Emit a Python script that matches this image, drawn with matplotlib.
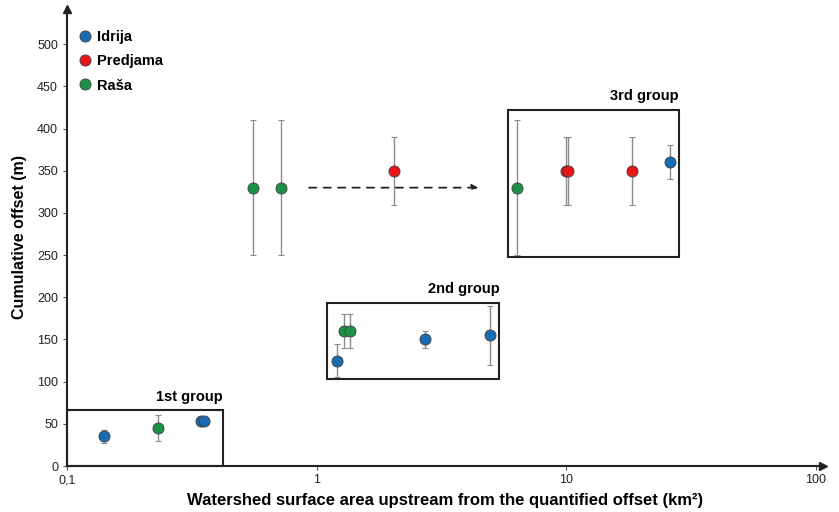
import matplotlib
matplotlib.use('Agg')
import matplotlib.pyplot as plt
from matplotlib.patches import Rectangle
from matplotlib.ticker import FixedLocator, FixedFormatter, NullLocator

plt.rcParams['font.family'] = ['Liberation Sans', 'DejaVu Sans']

# Watershed area (km2), cumulative offset (m) and error (m) per region
idrija_area = [0.141, 0.344, 0.353, 1.21, 2.73, 4.97, 26.1]
idrija_offset = [35, 53, 53, 125, 150, 155, 360]
idrija_err = [8, 0, 0, 20, 10, 35, 20]

predjama_area = [2.05, 9.95, 10.2, 18.4]
predjama_offset = [350, 350, 350, 350]
predjama_err = [40, 40, 40, 40]

rasa_area = [0.231, 0.555, 0.718, 1.29, 1.36, 6.37]
rasa_offset = [45, 330, 330, 160, 160, 330]
rasa_err = [15, 80, 80, 20, 20, 80]

# group boxes: (x0, x1, y0, y1, label)
groups = [
    (0.1, 0.42, 0, 66, '1st group'),
    (1.10, 5.4, 103, 193, '2nd group'),
    (5.86, 28.3, 248, 422, '3rd group'),
]

# dashed arrow between the groups
arrow_start = (0.91, 330)
arrow_end = (4.57, 330)

fig = plt.figure(figsize=(8.39, 5.12), dpi=100)
ax = fig.add_axes([0.0799, 0.0898, 0.901, 0.893])

series = [
    ('Idrija', idrija_area, idrija_offset, idrija_err, '#1a6cb0'),
    ('Predjama', predjama_area, predjama_offset, predjama_err, '#e8161b'),
    ('Raša', rasa_area, rasa_offset, rasa_err, '#1a9146'),
]
for name, xs, ys, es, col in series:
    ax.errorbar(xs, ys, yerr=es, fmt='none', ecolor='#8c8c8c', elinewidth=1.0,
                capsize=2.5, capthick=0.8, zorder=2)
    ax.plot(xs, ys, 'o', color=col, markersize=8, markeredgecolor='#404040',
            markeredgewidth=0.6, label=name, zorder=3)

for x0, x1, y0, y1, label in groups:
    ax.add_patch(Rectangle((x0, y0), x1 - x0, y1 - y0, fill=False,
                           edgecolor='#222222', linewidth=1.5, zorder=1,
                           clip_on=False))
    ax.text(x1, y1 + 8, label, ha='right', va='bottom', fontsize=10.5,
            fontweight='bold')

ax.annotate('', xy=arrow_end, xytext=arrow_start,
            arrowprops=dict(arrowstyle='-|>', linestyle=(0, (4, 4)),
                            color='#222222', lw=1.3, mutation_scale=9))

ax.set_xscale('log')
ax.set_xlim(0.1, 107)
ax.set_ylim(0, 542)

ax.xaxis.set_major_locator(FixedLocator([0.1, 1, 10, 100]))
ax.xaxis.set_major_formatter(FixedFormatter(['0,1', '1', '10', '100']))
ax.xaxis.set_minor_locator(NullLocator())
ax.set_yticks(range(0, 501, 50))

for s in ['top', 'right']:
    ax.spines[s].set_visible(False)
for s in ['left', 'bottom']:
    ax.spines[s].set_linewidth(1.5)
    ax.spines[s].set_color('#222222')
ax.tick_params(axis='both', labelsize=9, length=3, width=0.8, color='#555555',
               labelcolor='#222222')
ax.tick_params(axis='x', pad=3)

# axis arrows
ax.plot(1, 0, '>', color='#222222', markersize=6, transform=ax.transAxes, clip_on=False)
ax.plot(0, 1, '^', color='#222222', markersize=6, transform=ax.transAxes, clip_on=False)

ax.set_xlabel('Watershed surface area upstream from the quantified offset (km²)',
              fontsize=12, fontweight='bold', labelpad=5)
ax.set_ylabel('Cumulative offset (m)', fontsize=11.5, fontweight='bold', labelpad=7)

leg = ax.legend(loc='upper left', bbox_to_anchor=(-0.005, 0.982), frameon=False,
                handletextpad=0.2, labelspacing=0.7, handlelength=1.2,
                prop={'weight': 'bold', 'size': 10.5})

fig.savefig('out.png', dpi=100)
